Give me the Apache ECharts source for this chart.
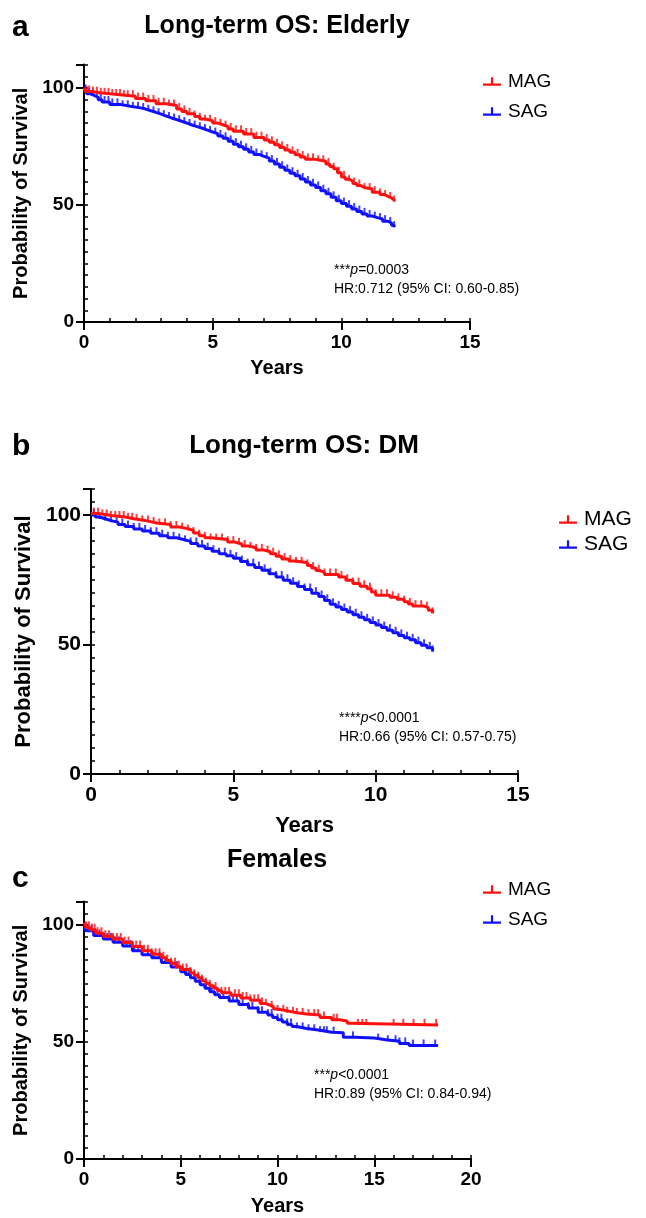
<!DOCTYPE html>
<html>
<head>
<meta charset="utf-8">
<script src="https://cdn.jsdelivr.net/npm/echarts@6/dist/echarts.min.js"></script>
<style>html,body{margin:0;padding:0;background:#fff;}#c{width:646px;height:1218px;}</style>
</head>
<body>
<div id="c"></div>
<script>
// ---------- DATA ----------
const seriesNames = ['MAG', 'SAG'];
const yTickLabels = [0, 50, 100];
const xTickLabelsAB = [0, 5, 10, 15];
const xTickLabelsC = [0, 5, 10, 15, 20];

// Panel a: Long-term OS: Elderly  [years, survival %]
const elderlyMAG = [[0,100],[0.05,98.5],[0.3,98],[0.6,97.5],[1.0,97],[1.5,96.5],[2.0,95.5],[2.4,94.5],[2.8,93.3],[3.2,92.5],[3.6,91],[3.8,90],[4.0,89],[4.3,87.8],[4.5,86.8],[4.7,86],[5.0,85],[5.2,84.3],[5.4,83.5],[5.6,82.5],[5.8,81.5],[6.2,80.3],[6.6,78.8],[7.0,77.8],[7.2,76.8],[7.4,75.8],[7.6,74.6],[7.8,73.5],[8.0,72.5],[8.2,71.5],[8.4,70.5],[8.6,69.5],[9.0,68.7],[9.4,67.5],[9.55,66.5],[9.7,65.5],[9.85,63.8],[10.0,62],[10.15,61],[10.3,60.2],[10.45,59.2],[10.6,58.3],[10.75,57.5],[10.9,56.8],[11.2,55.5],[11.5,54.5],[11.65,53.8],[11.8,53],[11.95,52.2],[12.05,51.5]];
const elderlySAG = [[0,99],[0.1,97.5],[0.25,96.8],[0.4,96],[0.55,95],[0.7,94],[1.0,93],[1.4,92.2],[1.8,91.5],[2.2,91],[2.4,90.3],[2.6,89.6],[2.8,88.8],[3.0,88],[3.2,87.2],[3.4,86.5],[3.6,85.8],[3.8,85],[4.0,84.2],[4.2,83.5],[4.4,82.8],[4.6,82],[4.8,81.2],[5.0,80.5],[5.2,79.5],[5.4,78.5],[5.6,77.2],[5.8,76],[6.0,74.9],[6.2,73.8],[6.4,72.7],[6.6,71.6],[6.8,70.8],[7.0,70],[7.2,68.8],[7.4,67.5],[7.6,66.1],[7.8,64.8],[8.0,63.6],[8.2,62.5],[8.4,61.1],[8.6,59.8],[8.8,58.6],[9.0,57.5],[9.2,56.1],[9.4,54.8],[9.6,53.3],[9.8,51.8],[10.0,50.6],[10.2,49.5],[10.4,48.3],[10.6,47.2],[10.8,46.2],[11.0,45.3],[11.2,44.6],[11.4,44],[11.6,43.1],[11.8,42.3],[11.95,41.3],[12.05,40.5]];
const elderlyCensorMAG = [0.1,0.2,0.35,0.5,0.65,0.8,0.95,1.1,1.25,1.4,1.55,1.7,1.9,2.1,2.3,2.5,2.7,2.9,3.1,3.3,3.5,3.7,3.9,4.1,4.3,4.5,4.7,4.9,5.1,5.3,5.5,5.7,5.9,6.1,6.3,6.5,6.7,6.9,7.1,7.3,7.5,7.7,7.9,8.1,8.3,8.5,8.7,8.9,9.1,9.3,9.5,9.7,9.9,10.1,10.3,10.5,10.7,10.9,11.1,11.3,11.5,11.7,11.9,12.05];
const elderlyCensorSAG = [0.05,0.2,0.35,0.5,0.65,0.8,0.95,1.1,1.3,1.5,1.7,1.9,2.1,2.3,2.5,2.7,2.9,3.1,3.3,3.5,3.7,3.9,4.1,4.3,4.5,4.7,4.9,5.1,5.3,5.5,5.7,5.9,6.1,6.3,6.5,6.7,6.9,7.1,7.3,7.5,7.7,7.9,8.1,8.3,8.5,8.7,8.9,9.1,9.3,9.5,9.7,9.9,10.1,10.3,10.5,10.7,10.9,11.1,11.3,11.5,11.7,11.9,12.05];

// Panel b: Long-term OS: DM
const dmMAG = [[0,100.5],[0.3,99.8],[0.7,99.2],[1.2,98.5],[1.5,98],[1.8,97.5],[2.05,96.9],[2.3,96.3],[2.8,95.3],[3.1,94.7],[3.4,94],[3.6,93],[3.8,92],[4.0,91.2],[4.2,90.5],[4.8,89.5],[5.05,88.8],[5.3,88],[5.55,87.3],[5.8,86.5],[6.05,85.8],[6.3,85],[6.5,84],[6.7,83],[6.95,82.2],[7.2,81.5],[7.6,80.5],[7.75,79.5],[7.9,78.5],[8.05,77.8],[8.2,77],[8.7,76],[8.95,74.8],[9.2,73.5],[9.45,72.5],[9.7,71.5],[9.85,70.2],[10.0,69],[10.5,68.2],[10.75,67.4],[11.0,66.5],[11.15,65.6],[11.3,64.8],[11.7,64.2],[11.85,63.2],[12.0,62]];
const dmSAG = [[0,100],[0.15,99.2],[0.3,98.5],[0.5,97.8],[0.7,97.2],[0.95,96.3],[1.2,95.5],[1.5,94.6],[1.8,93.8],[2.1,92.9],[2.4,92],[2.7,91.2],[3.0,90.5],[3.25,89.8],[3.5,89],[3.75,88],[4.0,87],[4.25,86],[4.5,85],[4.75,84.2],[5.0,83.3],[5.25,82],[5.5,80.8],[5.75,79.7],[6.0,78.6],[6.25,77.3],[6.5,76],[6.75,74.8],[7.0,73.6],[7.25,72.4],[7.5,71.2],[7.75,69.8],[8.0,68.5],[8.2,67],[8.4,65.5],[8.6,64.5],[8.8,63.5],[9.0,62.5],[9.2,61.5],[9.4,60.5],[9.6,59.5],[9.8,58.5],[10.0,57.5],[10.2,56.5],[10.4,55.5],[10.6,54.5],[10.8,53.5],[11.0,52.6],[11.2,51.8],[11.4,50.7],[11.6,49.7],[11.8,48.7],[12.0,47.3]];
const dmCensorMAG = [0.1,0.25,0.4,0.55,0.7,0.85,1.0,1.15,1.3,1.45,1.6,1.8,2.0,2.2,2.4,2.6,2.8,3.0,3.2,3.4,3.6,3.8,4.0,4.2,4.4,4.6,4.8,5.0,5.2,5.4,5.6,5.8,6.0,6.2,6.4,6.6,6.8,7.0,7.2,7.4,7.6,7.8,8.0,8.2,8.4,8.6,8.8,9.0,9.2,9.4,9.6,9.8,10.0,10.2,10.4,10.6,10.8,11.0,11.2,11.4,11.6,11.8,12.0];
const dmCensorSAG = [0.1,0.3,0.5,0.7,0.9,1.1,1.3,1.5,1.7,1.9,2.1,2.3,2.5,2.7,2.9,3.1,3.3,3.5,3.7,3.9,4.1,4.3,4.5,4.7,4.9,5.1,5.3,5.5,5.7,5.9,6.1,6.3,6.5,6.7,6.9,7.1,7.3,7.5,7.7,7.9,8.1,8.3,8.5,8.7,8.9,9.1,9.3,9.5,9.7,9.9,10.1,10.3,10.5,10.7,10.9,11.1,11.3,11.5,11.7,11.9,12.0];

// Panel c: Females
const femMAG = [[0,101],[0.1,99],[0.3,98],[0.6,96.5],[1.0,95.2],[1.5,94],[2.0,92.5],[2.5,90.8],[3.0,89],[3.5,87.5],[4.0,86],[4.25,84.8],[4.5,83.5],[4.75,82.2],[5.0,81],[5.5,79.5],[5.7,78.5],[5.9,77.5],[6.1,76.2],[6.3,75],[6.5,74],[6.7,73],[6.9,72],[7.1,71],[7.6,70],[8.1,68.8],[8.6,67.8],[9.1,66.5],[9.35,65.8],[9.6,65],[9.8,64.1],[10.0,63.3],[10.5,62.5],[11.0,62],[11.5,61.5],[12.2,60.5],[12.8,59.5],[13.2,59],[13.6,58],[13.8,57.3],[18.3,57.3]];
const femSAG = [[0,99],[0.1,97.5],[0.5,95.5],[1.0,94],[1.5,92.6],[2.0,91],[2.5,89],[3.0,87.3],[3.5,86],[4.0,84],[4.5,82],[5.0,80],[5.25,78.8],[5.5,77.5],[5.75,76],[6.0,74.5],[6.25,73],[6.5,71.5],[6.75,70.2],[7.0,69],[7.5,67.5],[8.0,66],[8.5,64.5],[9.0,62.7],[9.5,61.5],[9.75,60.5],[10.0,59.5],[10.25,58.5],[10.5,57.5],[10.75,56.6],[11.0,55.8],[11.5,55],[12.2,54.2],[12.8,54],[13.4,52],[14.0,51.7],[15.0,51],[15.6,50.3],[16.3,49.4],[16.8,48.5],[18.3,48.5]];
const femCensorMAG = [0.1,0.25,0.4,0.55,0.7,0.9,1.1,1.3,1.5,1.7,1.9,2.1,2.3,2.5,2.7,2.9,3.1,3.3,3.5,3.7,3.9,4.1,4.3,4.5,4.7,4.9,5.1,5.3,5.5,5.7,5.9,6.1,6.3,6.5,6.8,7.1,7.3,7.5,7.8,8.0,8.2,8.4,8.6,8.8,9.0,9.2,9.4,9.7,10.0,10.3,10.5,10.8,11.0,11.3,11.6,11.9,12.1,12.4,12.9,13.07,14.16,14.38,14.59,16.0,16.5,17.03,17.6,18.2];
const femCensorSAG = [0.2,0.4,0.6,0.8,1.0,1.2,1.4,1.6,1.8,2.0,2.2,2.4,2.6,2.8,3.0,3.3,3.6,3.9,4.2,4.5,4.8,5.1,5.4,5.7,6.0,6.3,6.6,6.9,7.2,7.5,7.7,7.9,8.2,8.5,8.7,9.0,9.2,9.5,9.7,10.0,10.2,10.5,10.7,11.0,11.3,11.6,11.9,12.2,12.4,12.55,12.9,13.9,15.2,15.7,16.1,16.3,16.6,17.0,17.55,18.15];

// ---------- CHART ----------
const RED = '#ff1010', BLUE = '#1010ff';
const FONT = '"Liberation Sans", Arial, Helvetica, sans-serif';

function survAt(curve, t) {
  let v = curve[0][1];
  for (const p of curve) { if (p[0] <= t + 1e-9) v = p[1]; else break; }
  return v;
}

const panels = [
  { grid: {left: 84, top: 64.6, width: 386, height: 257.4}, xMax: 15, xTicks: xTickLabelsAB, fs: 19, nameFs: 20, gapX: 36, gapY: 42,
    curves: [elderlyMAG, elderlySAG], censors: [elderlyCensorMAG, elderlyCensorSAG] },
  { grid: {left: 91, top: 489, width: 427, height: 285}, xMax: 15, xTicks: xTickLabelsAB, fs: 21, nameFs: 22, gapX: 41, gapY: 46,
    curves: [dmMAG, dmSAG], censors: [dmCensorMAG, dmCensorSAG] },
  { grid: {left: 84, top: 901.6, width: 387, height: 257.4}, xMax: 20, xTicks: xTickLabelsC, fs: 19, nameFs: 20, gapX: 37, gapY: 42,
    curves: [femMAG, femSAG], censors: [femCensorMAG, femCensorSAG] }
];

const grid = [], xAxis = [], yAxis = [], series = [];
panels.forEach((p, i) => {
  grid.push(Object.assign({containLabel: false}, p.grid));
  const lbl = {fontFamily: FONT, fontWeight: 'bold', fontSize: p.fs, color: '#000'};
  xAxis.push({
    type: 'value', gridIndex: i, min: 0, max: p.xMax, interval: 5,
    axisLine: {show: true, onZero: false, lineStyle: {color: '#000', width: 2}},
    axisTick: {show: true, length: 8, lineStyle: {color: '#000', width: 2}},
    axisLabel: Object.assign({margin: 11, formatter: v => p.xTicks.includes(v) ? String(v) : ''}, lbl),
    splitLine: {show: false},
    name: 'Years', nameLocation: 'middle', nameGap: p.gapX,
    nameTextStyle: {fontFamily: FONT, fontWeight: 'bold', fontSize: p.nameFs, color: '#000'}
  });
  xAxis.push({
    type: 'value', gridIndex: i, min: 0, max: p.xMax, interval: 1,
    axisLine: {show: false}, axisTick: {show: true, length: 4, lineStyle: {color: '#000', width: 1.5}},
    axisLabel: {show: false}, splitLine: {show: false}
  });
  yAxis.push({
    type: 'value', gridIndex: i, min: 0, max: 110, interval: 50,
    axisLine: {show: true, onZero: false, lineStyle: {color: '#000', width: 2}},
    axisTick: {show: true, length: 8, lineStyle: {color: '#000', width: 2}},
    axisLabel: Object.assign({margin: 10, formatter: v => yTickLabels.includes(v) ? String(v) : ''}, lbl),
    splitLine: {show: false},
    name: 'Probability of Survival', nameLocation: 'middle', nameRotate: 90, nameGap: p.gapY,
    nameTextStyle: {fontFamily: FONT, fontWeight: 'bold', fontSize: p.nameFs, color: '#000'}
  });
  yAxis.push({
    type: 'value', gridIndex: i, min: 0, max: 110, interval: 5,
    axisLine: {show: false}, axisTick: {show: true, length: 4, lineStyle: {color: '#000', width: 1.5}},
    axisLabel: {show: false}, splitLine: {show: false}
  });
  [0, 1].forEach(k => {
    const col = k === 0 ? RED : BLUE;
    series.push({
      name: seriesNames[k], type: 'line', step: 'end', xAxisIndex: 2 * i, yAxisIndex: 2 * i,
      data: p.curves[k], showSymbol: false, symbol: 'none', animation: false,
      lineStyle: {color: col, width: 3}, itemStyle: {color: col}, z: 3 - k
    });
    series.push({
      name: seriesNames[k], type: 'scatter', xAxisIndex: 2 * i, yAxisIndex: 2 * i,
      data: p.censors[k].map(t => [t, survAt(p.curves[k], t)]),
      symbol: 'rect', symbolSize: [2, 6], symbolOffset: [0, -3], animation: false,
      itemStyle: {color: col}, z: 3 - k
    });
  });
});

const legIcon = 'path://M0,10 L20,10 L20,12.5 L0,12.5 Z M8.8,3 L11.2,3 L11.2,10 L8.8,10 Z';
const legendPos = [{left: 478, top: 67, gap: 11, fs: 19}, {left: 554, top: 504, gap: 4, fs: 21}, {left: 478, top: 875, gap: 11, fs: 19}];
const legend = legendPos.map(l => ({
  data: seriesNames, orient: 'vertical', left: l.left, top: l.top, itemGap: l.gap,
  itemWidth: 18, itemHeight: 10, icon: legIcon, selectedMode: false,
  textStyle: {fontFamily: FONT, fontSize: l.fs, color: '#000', padding: [0, 0, 0, 2]}
}));

function txt(x, y, text, size, weight, align) {
  return {type: 'text', x: x, y: y, style: {text: text, fontFamily: FONT, fontSize: size, fontWeight: weight,
    fill: '#000', align: align || 'left', verticalAlign: 'middle'}};
}
function annot(x, y, stars, rel, hr) {
  return {type: 'text', x: x, y: y, style: {
    text: stars + '{i|p}' + rel + '\n' + hr, fontFamily: FONT, fontSize: 14, fill: '#000', lineHeight: 19,
    rich: {i: {fontStyle: 'italic', fontFamily: FONT, fontSize: 14, fill: '#000'}}
  }};
}

const graphic = [
  txt(12, 28, 'a', 30, 'bold'),
  txt(277, 26, 'Long-term OS: Elderly', 25, 'bold', 'center'),
  annot(334, 261, '***', '=0.0003', 'HR:0.712 (95% CI: 0.60-0.85)'),
  txt(12, 447, 'b', 30, 'bold'),
  txt(304, 446, 'Long-term OS: DM', 26, 'bold', 'center'),
  annot(339, 709, '****', '<0.0001', 'HR:0.66 (95% CI: 0.57-0.75)'),
  txt(12, 879, 'c', 30, 'bold'),
  txt(277, 860, 'Females', 25, 'bold', 'center'),
  annot(314, 1066, '***', '<0.0001', 'HR:0.89 (95% CI: 0.84-0.94)')
];

const chart = echarts.init(document.getElementById('c'), null, {renderer: 'canvas'});
chart.setOption({backgroundColor: '#fff', animation: false, grid, xAxis, yAxis, series, legend, graphic});
</script>
</body>
</html>
